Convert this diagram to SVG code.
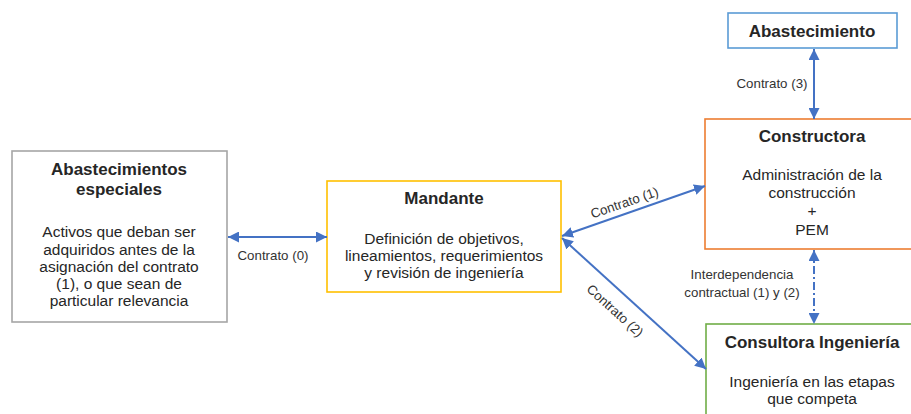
<svg xmlns="http://www.w3.org/2000/svg" width="911" height="414" viewBox="0 0 911 414">
  <style>
    text { font-family: "Liberation Sans", Arial, sans-serif; fill: #262626; text-anchor: middle; }
    .title { font-size: 17px; font-weight: bold; }
    .body { font-size: 15.5px; }
    .lbl { font-size: 13.3px; fill: #333333; }
    .box { fill: #ffffff; stroke-width: 1.6; }
    .conn { stroke: #4472c4; stroke-width: 2; fill: none; marker-start: url(#arrow); marker-end: url(#arrow); }
    .dashdot { stroke-dasharray: 8 3 2 3; }
  </style>
  <defs>
    <marker id="arrow" viewBox="0 0 10 10" refX="10" refY="5" markerWidth="11" markerHeight="11" markerUnits="userSpaceOnUse" orient="auto-start-reverse">
      <path d="M0,0 L10,5 L0,10 z" fill="#4472c4"/>
    </marker>
  </defs>
  <rect width="911" height="414" fill="#ffffff"/>

  <g id="abastecimientos-especiales">
    <rect class="box" x="12" y="151" width="215" height="171" stroke="#a6a6a6"/>
    <text class="title" x="119" y="175">Abastecimientos</text>
    <text class="title" x="119" y="195">especiales</text>
    <text class="body" x="119" y="237">Activos que deban ser</text>
    <text class="body" x="119" y="254.5">adquiridos antes de la</text>
    <text class="body" x="119" y="272">asignación del contrato</text>
    <text class="body" x="119" y="289">(1), o que sean de</text>
    <text class="body" x="119" y="306">particular relevancia</text>
  </g>

  <g id="mandante">
    <rect class="box" x="327" y="181" width="234" height="111" stroke="#ffc000"/>
    <text class="title" x="444" y="204">Mandante</text>
    <text class="body" x="444" y="244">Definición de objetivos,</text>
    <text class="body" x="444" y="261">lineamientos, requerimientos</text>
    <text class="body" x="444" y="278">y revisión de ingeniería</text>
  </g>

  <g id="abastecimiento">
    <rect class="box" x="728" y="13" width="169" height="35" stroke="#5b9bd5"/>
    <text class="title" x="812" y="37">Abastecimiento</text>
  </g>

  <g id="constructora">
    <rect class="box" x="705" y="119" width="212" height="130" stroke="#ed7d31"/>
    <text class="title" x="812" y="142">Constructora</text>
    <text class="body" x="812" y="180">Administración de la</text>
    <text class="body" x="812" y="198">construcción</text>
    <text class="body" x="812" y="216">+</text>
    <text class="body" x="812" y="235">PEM</text>
  </g>

  <g id="consultora-ingenieria">
    <rect class="box" x="706" y="324" width="211" height="100" stroke="#70ad47"/>
    <text class="title" x="812" y="348">Consultora Ingeniería</text>
    <text class="body" x="812" y="387">Ingeniería en las etapas</text>
    <text class="body" x="812" y="404">que competa</text>
  </g>

  <g id="connectors">
    <line class="conn" x1="228" y1="237" x2="327" y2="237"/>
    <line class="conn" x1="562" y1="236" x2="705" y2="186"/>
    <line class="conn" x1="562" y1="238" x2="706" y2="369"/>
    <line class="conn" x1="814" y1="49" x2="814" y2="119"/>
    <line class="conn dashdot" x1="814" y1="250" x2="814" y2="324"/>
    <text class="lbl" x="273" y="260">Contrato (0)</text>
    <text class="lbl" x="772" y="88">Contrato (3)</text>
    <text class="lbl" transform="translate(626,207) rotate(-19)">Contrato (1)</text>
    <text class="lbl" transform="translate(612,314) rotate(42)">Contrato (2)</text>
    <text class="lbl" x="742" y="279">Interdependencia</text>
    <text class="lbl" x="742" y="297">contractual (1) y (2)</text>
  </g>
</svg>
